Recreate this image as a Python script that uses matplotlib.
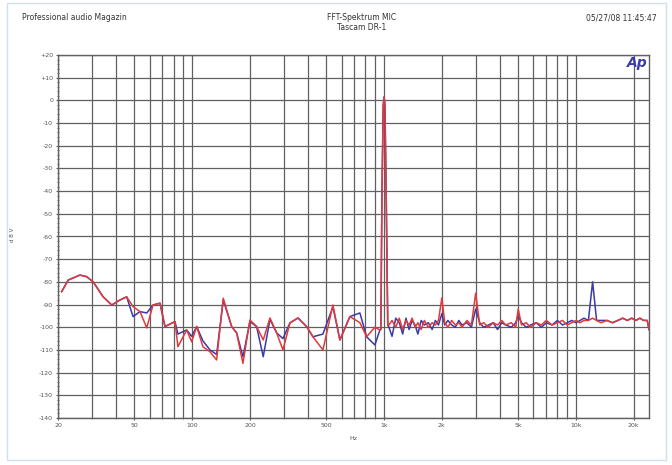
import matplotlib
matplotlib.use("Agg")
import matplotlib.pyplot as plt
from matplotlib.patches import Rectangle
from matplotlib.ticker import FixedLocator, NullFormatter, MultipleLocator

# ---------------- data ----------------
freq_low = [20.9, 22.6, 26.0, 28.2, 30.5, 34.3, 38.1, 42.0, 45.6, 49.2, 53.5, 58.0,
            62.5, 68.0, 72.2, 81.4, 84.3, 93.6, 99.4, 105.6, 113.8, 123.8, 134.1,
            145.2, 160.6, 170.5, 183.9, 200, 216.7, 234.6, 254.3, 275.6, 297.2,
            323.2, 355.7, 394.9, 425.9, 480.2, 541.1, 588.6, 663.5, 748.2, 810.8,
            895.6, 950.7]
red_low = [-84.3, -79.2, -77.0, -77.7, -80.0, -86.5, -90.2, -88.0, -86.6, -90.9, -93.1,
           -100.3, -90.2, -89.4, -99.7, -97.5, -108.6, -101.2, -106.4, -99.7, -108.6,
           -110.8, -114.4, -87.2, -99.7, -102.5, -115.9, -96.8, -99.7, -105.6, -95.9,
           -102.5, -110.0, -98.1, -95.9, -99.7, -104.2, -110.0, -90.2, -105.6, -95.3,
           -98.0, -104.2, -100.0, -101.2]
blue_low = [-84.3, -79.2, -77.0, -77.7, -80.0, -86.5, -90.2, -88.0, -86.6, -95.3, -93.1,
            -93.7, -90.2, -89.4, -99.7, -97.5, -103.0, -101.2, -104.0, -99.7, -106.0,
            -110.0, -112.0, -88.0, -99.7, -102.5, -113.0, -97.5, -99.7, -113.0, -96.5,
            -102.5, -105.0, -98.1, -95.9, -99.7, -104.2, -103.0, -91.0, -105.6, -95.3,
            -93.7, -104.2, -107.8, -101.2]

freq_peak = [962, 975, 990, 1000, 1010, 1025, 1045]
red_peak = [-101, -40, -2, 1.5, -2, -40, -99]
blue_peak = [-101, -40, -2, 1.5, -2, -40, -99]

freq_high = [1060, 1100, 1150, 1200, 1250, 1300, 1350, 1400, 1450, 1500, 1560, 1620,
             1700, 1780, 1850, 1920, 2000, 2070, 2150, 2250, 2350, 2450, 2550, 2700,
             2850, 3000, 3150, 3300, 3500, 3700, 3900, 4100, 4300, 4600, 4850, 5000,
             5200, 5500, 5800, 6200, 6600, 7000, 7500, 8000, 8500, 9000, 9500, 10000,
             10500, 11000, 11600, 12200, 12800, 13500, 14500, 15500, 16500, 17500,
             18500, 19500, 20500, 21500, 22500, 23500, 24000]
red_high = [-99, -97, -100, -96, -101, -97, -99, -96, -100, -98, -101, -97,
            -100, -98, -99, -97, -87, -98, -100, -97, -99, -98, -100, -97,
            -99, -85, -99, -98, -100, -98, -99, -97, -99, -98, -100, -92,
            -99, -98, -100, -98, -99, -97, -99, -98, -97, -99, -98, -97,
            -98, -97, -97, -96, -97, -98, -97, -98, -97, -96, -97, -96,
            -97, -96, -97, -97, -101]
blue_high = [-100, -104, -96, -98, -103, -96, -101, -97, -99, -103, -97, -99,
             -98, -101, -97, -99, -94, -99, -97, -99, -100, -97, -99, -98,
             -100, -92, -98, -100, -99, -98, -101, -98, -99, -100, -98, -95,
             -98, -100, -99, -98, -100, -98, -99, -97, -99, -98, -97, -98,
             -97, -96, -97, -80, -97, -97, -97, -98, -97, -96, -97, -96,
             -97, -96, -97, -97, -101]

freq = freq_low + freq_peak + freq_high
red = red_low + red_peak + red_high
blue = blue_low + blue_peak + blue_high

ytick_values = list(range(20, -150, -10))
ytick_labels = ["+20", "+10", "0"] + [str(v) for v in range(-10, -150, -10)]
xtick_values = [20, 50, 100, 200, 500, 1000, 2000, 5000, 10000, 20000]
xtick_labels = ["20", "50", "100", "200", "500", "1k", "2k", "5k", "10k", "20k"]

# ---------------- figure ----------------
fig = plt.figure(figsize=(6.72, 4.65), dpi=100)
fig.patch.set_facecolor("white")
fig.patches.append(Rectangle((7 / 672, 5 / 465), 659 / 672, 457 / 465,
                             transform=fig.transFigure, fill=False,
                             edgecolor="#cfe0f0", linewidth=1.0))

ax = fig.add_axes([58 / 672, 47 / 465, 591 / 672, 363 / 465])
ax.set_xscale("log")
ax.set_xlim(20, 24000)
ax.set_ylim(-140, 20)

grid_c = "#606060"
vlines = []
for dec in [10, 100, 1000, 10000]:
    for m in range(1, 10):
        v = dec * m
        if 20 <= v <= 24000:
            vlines.append(v)
for v in vlines:
    ax.axvline(v, color=grid_c, lw=0.9, zorder=1)
for v in ytick_values:
    ax.axhline(v, color=grid_c, lw=0.9, zorder=1)

ax.plot(freq, blue, color="#3a3aa8", lw=1.1, zorder=3)
ax.plot(freq, red, color="#e23a3a", lw=1.1, zorder=4)

ax.set_yticks(ytick_values)
ax.set_yticklabels(ytick_labels, fontsize=4.5, color="#555555")
ax.yaxis.set_minor_locator(MultipleLocator(2))
ax.xaxis.set_major_locator(FixedLocator(xtick_values))
ax.set_xticklabels(xtick_labels, fontsize=4.5, color="#555555")
ax.xaxis.set_minor_locator(FixedLocator(vlines))
ax.xaxis.set_minor_formatter(NullFormatter())
ax.tick_params(axis="both", which="major", length=3, width=0.8, color=grid_c,
               direction="inout", pad=2)
ax.tick_params(axis="both", which="minor", length=2, width=0.6, color=grid_c,
               direction="inout")
for s in ax.spines.values():
    s.set_color(grid_c)
    s.set_linewidth(1.0)

ax.set_xlabel("Hz", fontsize=4.5, color="#555555", labelpad=6)
fig.text(12 / 672, 1 - 235 / 465, "d B V", fontsize=4, color="#555555",
         rotation=90, ha="center", va="center")

# header
fig.text(22 / 672, 1 - 18 / 465, "Professional audio Magazin", fontsize=5.5,
         color="#333333", ha="left", va="center")
fig.text(362 / 672, 1 - 17 / 465, "FFT-Spektrum MIC", fontsize=5.5,
         color="#333333", ha="center", va="center")
fig.text(362 / 672, 1 - 27 / 465, "Tascam DR-1", fontsize=5.5,
         color="#333333", ha="center", va="center")
fig.text(657 / 672, 1 - 18 / 465, "05/27/08 11:45:47", fontsize=5.5,
         color="#333333", ha="right", va="center")

# Ap logo
fig.text(637 / 672, 1 - 63 / 465, "Ap", fontsize=10, color="#3a3aa8",
         fontweight="bold", fontstyle="italic", ha="center", va="center")

fig.savefig("out.png", dpi=100)
